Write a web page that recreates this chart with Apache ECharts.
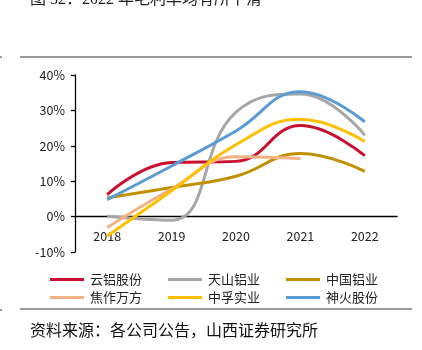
<!DOCTYPE html>
<html>
<head>
<meta charset="utf-8">
<script src="https://cdn.jsdelivr.net/npm/echarts@6/dist/echarts.min.js"></script>
<style>
  html, body { margin: 0; padding: 0; background: #fff; }
  #chart { width: 422px; height: 350px; }
</style>
</head>
<body>
<div id="chart"></div>
<script>
// 年份
const years = ['2018', '2019', '2020', '2021', '2022']
// 毛利率 (%)
const yunLv = [6.2, 15.3, 15.6, 25.7, 17.2]
const tianShan = [0.1, -1.0, 29.5, 34.6, 23.0]
const zhongGuo = [5.3, 8.2, 11.4, 17.8, 12.8]
const jiaoZuo = [-3.1, 7.8, 16.9, 16.4]
const zhongFu = [-5.5, 7.3, 20.3, 27.5, 21.2]
const shenHuo = [4.8, 14.3, 24.2, 35.3, 26.8]
const yTicks = [-10, 0, 10, 20, 30, 40]

const names = ['云铝股份', '天山铝业', '中国铝业', '焦作万方', '中孚实业', '神火股份']
const colors = ['#c9102f', '#a6a6a6', '#bf9000', '#f4b183', '#ffc000', '#5b9bd5']
const seriesData = [yunLv, tianShan, zhongGuo, jiaoZuo, zhongFu, shenHuo]

const font = '"Noto Sans CJK SC", "Noto Sans", sans-serif'

const chart = echarts.init(document.getElementById('chart'))

// 图例：两行三列
const legends = names.map(function (n, i) {
  return {
    data: [n],
    left: 50 + (i % 3) * 118,
    top: 273 + Math.floor(i / 3) * 18,
    itemWidth: 34,
    itemHeight: 3,
    itemGap: 0,
    icon: 'rect',
    padding: 0,
    textStyle: { fontSize: 13, color: '#222', fontFamily: font, padding: [0, 0, 0, 1] }
  }
})

chart.setOption({
  animation: false,
  textStyle: { fontFamily: font },
  grid: { left: 75, right: 25, top: 75, bottom: 98 },
  legend: legends,
  xAxis: {
    type: 'category',
    data: years,
    axisLine: { onZero: true, lineStyle: { color: '#000', width: 1.3 } },
    axisTick: { inside: true, length: 5, lineStyle: { color: '#000', width: 1.3 } },
    // 标签位置相对网格底部，向上移回 0% 轴线下方
    axisLabel: { fontSize: 12.5, color: '#222', margin: -22, fontFamily: font }
  },
  yAxis: {
    type: 'value',
    min: yTicks[0],
    max: yTicks[yTicks.length - 1],
    interval: 10,
    splitLine: { show: false },
    axisLine: { show: true, lineStyle: { color: '#000', width: 1.3 } },
    axisTick: { show: true, length: 4, lineStyle: { color: '#000', width: 1.3 } },
    axisLabel: { fontSize: 12.5, color: '#222', margin: 10, formatter: '{value}%', fontFamily: font }
  },
  series: seriesData.map(function (d, i) {
    return {
      name: names[i],
      type: 'line',
      data: d,
      smooth: 0.45,
      symbol: 'none',
      lineStyle: { width: 3, color: colors[i] },
      itemStyle: { color: colors[i] }
    }
  }),
  graphic: [
    {
      type: 'text', left: 30, top: -8,
      style: { text: '图 32：2022 年毛利率均有所下滑', fontSize: 16, fill: '#222', fontFamily: '"Liberation Serif", "Noto Sans CJK SC", serif' }
    },
    { type: 'line', shape: { x1: 20, y1: 57, x2: 412, y2: 57 }, style: { stroke: '#333', lineWidth: 1 } },
    { type: 'line', shape: { x1: 20, y1: 309, x2: 412, y2: 309 }, style: { stroke: '#333', lineWidth: 1 } },
    { type: 'line', shape: { x1: 0, y1: 57, x2: 2, y2: 57 }, style: { stroke: '#333', lineWidth: 1 } },
    { type: 'line', shape: { x1: 0, y1: 310, x2: 2, y2: 310 }, style: { stroke: '#333', lineWidth: 1 } },
    {
      type: 'text', left: 30, top: 322,
      style: { text: '资料来源：各公司公告，山西证券研究所', fontSize: 16, fill: '#111', fontFamily: font }
    }
  ]
})
</script>
</body>
</html>
